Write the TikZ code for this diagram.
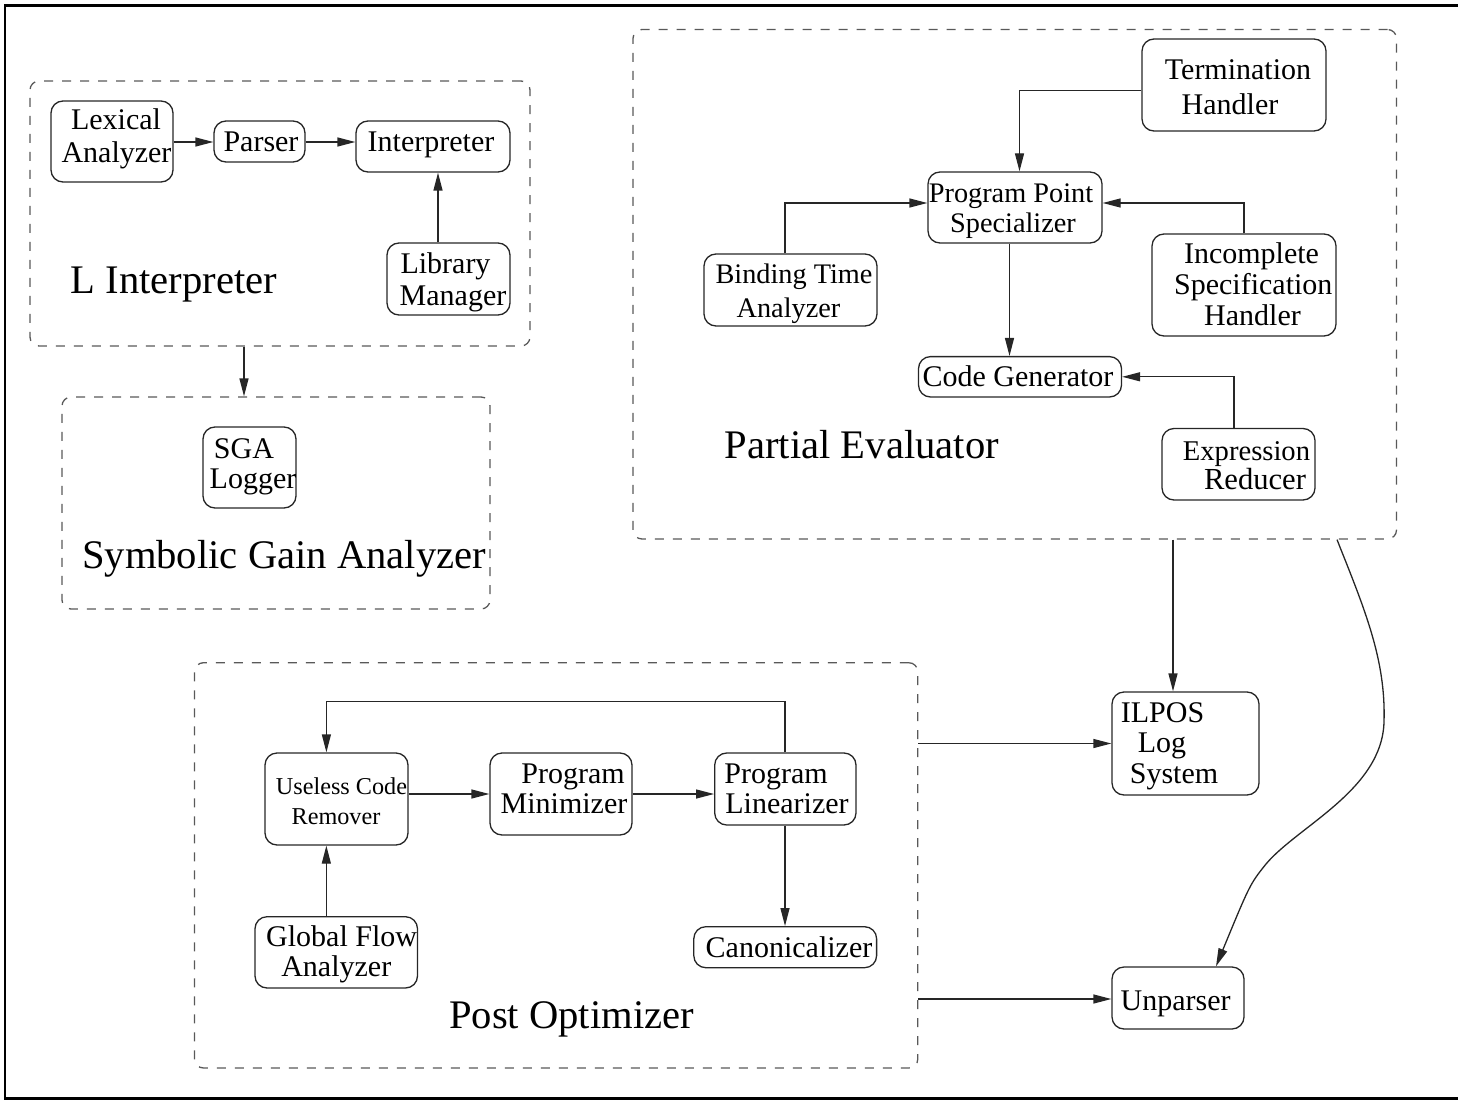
\documentclass[tikz,border=0pt]{standalone}
\usepackage{fontspec}
\setmainfont{Liberation Serif}
\usetikzlibrary{arrows.meta,calc}

\tikzset{
  blk/.style={draw=black!85, line width=1.3pt, rounded corners=12pt, inner sep=0pt},
  grp/.style={draw=black!65, line width=1.3pt, rounded corners=9pt,
              dash pattern=on 9pt off 9pt, inner sep=0pt},
  lbl/.style={inner sep=0pt, anchor=base},
  t30/.style={lbl, font=\fontsize{30}{32}\selectfont},
  t28/.style={lbl, font=\fontsize{28.3}{32}\selectfont},
  t24/.style={lbl, font=\fontsize{24.2}{30}\selectfont},
  t40/.style={lbl, anchor=base west, font=\fontsize{40.6}{44}\selectfont},
  arr/.style={draw=black!85, line width=1.3pt, -{Triangle[length=18pt,width=9pt]}},
}

\begin{document}
\begin{tikzpicture}[x=1pt,y=-1pt]
\useasboundingbox (0,0) rectangle (1458,1102);

% outer frame (open on the right)
\draw[line width=2.8pt] (1462,5.5) -- (5,5.5) -- (5,1098.8) -- (1462,1098.8);

% ---------------- L Interpreter ----------------
\node[grp, minimum width=500pt, minimum height=265pt] (li) at (280,213.5) {};
\node[blk, minimum width=122pt, minimum height=81pt] (lex) at (112,141.5) {};
\node[t30] (lexA) at (116,130) {Lexical};
\node[t30] (lexB) at (116.5,163) {Analyzer};
\node[blk, minimum width=91pt, minimum height=41pt] (par) at (259.5,141.5) {};
\node[t30] (parA) at (261,152) {Parser};
\node[blk, minimum width=154pt, minimum height=51pt] (int) at (433,146.5) {};
\node[t30] (intA) at (431,152) {Interpreter};
\node[blk, minimum width=123pt, minimum height=72pt] (lib) at (448.5,279) {};
\node[t30] (libA) at (445.5,273) {Library};
\node[t30] (libB) at (453,305) {Manager};
\node[t40] (liT) at (70.5,293) {L Interpreter};

\draw[arr] ([yshift=-0.5pt]lex.east) -- ([yshift=-0.5pt]lex.east -| par.west);
\draw[arr] ([yshift=-0.5pt]par.east) -- ([yshift=-0.5pt]par.east -| int.west);
\draw[arr] ([xshift=-10.5pt]lib.north) -- ([xshift=-10.5pt]lib.north |- int.south);

% ---------------- Symbolic Gain Analyzer ----------------
\node[grp, minimum width=428pt, minimum height=212pt] (sga) at (276,503) {};
\node[blk, minimum width=93pt, minimum height=81pt] (sgal) at (249.5,467.5) {};
\node[t30] (sgalA) at (244,458) {SGA};
\node[t30] (sgalB) at (253,488) {Logger};
\node[t40] (sgaT) at (82,568) {Symbolic Gain Analyzer};

\coordinate (sgain) at (244,397);
\draw[arr] (li.south -| sgain) -- (sga.north -| sgain);

% ---------------- Partial Evaluator ----------------
\node[grp, minimum width=763.5pt, minimum height=509.5pt] (pe) at (1014.75,284.25) {};
\node[blk, minimum width=184pt, minimum height=92pt] (term) at (1234,85) {};
\node[t30] (termA) at (1238,80) {Termination};
\node[t30] (termB) at (1230,115) {Handler};
\node[blk, minimum width=174pt, minimum height=71pt] (pps) at (1015,207.5) {};
\node[t28] (ppsA) at (1011,203) {Program Point};
\node[t28] (ppsB) at (1013,233) {Specializer};
\node[blk, minimum width=173pt, minimum height=72pt] (bta) at (790.5,290) {};
\node[t28] (btaA) at (794,283) {Binding Time};
\node[t28] (btaB) at (788.5,317) {Analyzer};
\node[blk, minimum width=184pt, minimum height=102pt] (isp) at (1244,285) {};
\node[t30] (ispA) at (1251.5,263) {Incomplete};
\node[t30] (ispB) at (1253.3,294.6) {Specification};
\node[t30] (ispC) at (1252.5,325) {Handler};
\node[blk, minimum width=203pt, minimum height=40.4pt] (cg) at (1020,376.8) {};
\node[t30] (cgA) at (1018,386) {Code Generator};
\node[blk, minimum width=153pt, minimum height=71.5pt] (er) at (1238.5,464.25) {};
\node[lbl, font=\fontsize{28.6}{32}\selectfont] (erA) at (1246.5,460) {Expression};
\node[lbl, font=\fontsize{30.6}{32}\selectfont] (erB) at (1255,489) {Reducer};
\node[t40] (peT) at (724.6,458) {Partial Evaluator};

\draw[arr] ([yshift=-5.5pt]term.west) -| ([xshift=4.5pt]pps.north);
\draw[arr] ([xshift=-5.5pt]bta.north) |- ([yshift=4.5pt]pps.west);
\draw[arr] (isp.north) |- ([yshift=4.5pt]pps.east);
\draw[arr] ([xshift=-5.5pt]pps.south) -- ([xshift=-5.5pt]pps.south |- cg.north);
\draw[arr] ([xshift=-4.5pt]er.north) |- (cg.east);

% ---------------- Post Optimizer ----------------
\node[grp, minimum width=723.3pt, minimum height=405.3pt] (po) at (556.15,865.35) {};
\node[blk, minimum width=143pt, minimum height=92pt] (ucr) at (336.5,799) {};
\node[t24] (ucrA) at (341.5,794) {Useless Code};
\node[t24] (ucrB) at (336,824) {Remover};
\node[blk, minimum width=142pt, minimum height=82pt] (pm) at (561,794) {};
\node[t30] (pmA) at (573,783) {Program};
\node[t30] (pmB) at (564,813) {Minimizer};
\node[blk, minimum width=141.3pt, minimum height=72pt] (pl) at (785.35,789) {};
\node[t30] (plA) at (776,783) {Program};
\node[t30] (plB) at (787,813) {Linearizer};
\node[blk, minimum width=162.5pt, minimum height=71.3pt] (gfa) at (336.25,952.35) {};
\node[t30] (gfaA) at (341.6,946) {Global Flow};
\node[t30] (gfaB) at (336.3,976.7) {Analyzer};
\node[blk, minimum width=182.8pt, minimum height=41pt] (can) at (785.2,947.2) {};
\node[t30] (canA) at (789,957) {Canonicalizer};
\node[t40] (poT) at (449,1028) {Post Optimizer};

\draw[arr] ([yshift=5pt]ucr.east) -- ([yshift=5pt]ucr.east -| pm.west);
\draw[arr] (pm.east) -- (pm.east -| pl.west);
\draw[arr] ([xshift=-9.9pt]gfa.north) -- ([xshift=-9.9pt]gfa.north |- ucr.south);
\draw[arr] ([xshift=-0.35pt]pl.south) -- ([xshift=-0.35pt]pl.south |- can.north);
\draw[arr] ([xshift=-0.35pt]pl.north) -- ++(0,-51) -| ([xshift=-10.1pt]ucr.north);

% ---------------- outputs ----------------
\node[blk, minimum width=147pt, minimum height=103pt] (ilpos) at (1185.5,743.5) {};
\node[t30] (ilposA) at (1162.5,722) {ILPOS};
\node[t30] (ilposB) at (1162,752) {Log};
\node[t30] (ilposC) at (1174,783) {System};
\node[blk, minimum width=132pt, minimum height=62pt] (unp) at (1178,998) {};
\node[t30] (unpA) at (1175.6,1010.5) {Unparser};

\coordinate (ilin) at (1173,692);
\draw[arr] (pe.south -| ilin) -- (ilpos.north -| ilin);
\draw[arr] (po.east |- ilpos.west) -- (ilpos.west);
\draw[arr] ([yshift=-1pt]po.east |- unp.west) -- ([yshift=-1pt]unp.west);

\coordinate (curvestart) at (1337,539);
\coordinate (curveend) at (1216,967);
\draw[arr] (pe.south -| curvestart)
  .. controls (1365,610) and (1386,660) .. (1384,722)
  .. controls (1382,790) and (1298,826) .. (1266,864)
  .. controls (1250,884) .. (unp.north -| curveend);
\end{tikzpicture}
\end{document}
